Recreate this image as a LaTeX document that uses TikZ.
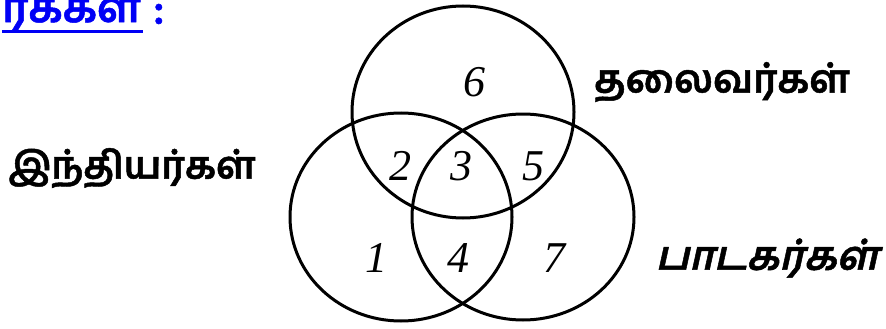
\documentclass[tikz,border=0pt]{standalone}
\usepackage{fontspec}
\setmainfont{Liberation Serif}
\newfontfamily\tamil[Script=Tamil,FakeBold=1.2]{Hind Madurai}
\newfontfamily\tamilsl[Script=Tamil,FakeSlant=0.22,FakeBold=1.2]{Hind Madurai}
\definecolor{hdrblue}{RGB}{0,0,245}
\begin{document}
\begin{tikzpicture}[x=1pt,y=-1pt,
  setcircle/.style={line width=3pt},
  num/.style={font=\fontsize{44}{44}\selectfont\itshape, inner sep=0pt},
  lbl/.style={font=\fontsize{#1}{44}\selectfont\tamil\bfseries, inner sep=0pt},
  lblsl/.style={font=\fontsize{#1}{44}\selectfont\tamilsl\bfseries, inner sep=0pt},
  hdr/.style={font=\fontsize{42}{46}\selectfont\tamil\bfseries, text=hdrblue, inner sep=0pt}]
\useasboundingbox (0,0) rectangle (886,329);
\clip (0,0) rectangle (886,329);
% header (cut at the left edge)
\node[hdr, anchor=east] (hword) at (141,14) {ரககள};
\node[hdr, anchor=west] (hcolon) at (153,14) {:};
\draw[hdrblue, line width=3pt] (hword.south west |- 0,32) coordinate (u1) -- (143,32) coordinate (u2);
% circles
\draw[setcircle] (463,112) ellipse [x radius=111, y radius=106];
\draw[setcircle] (401,217) ellipse [x radius=111, y radius=104];
\draw[setcircle] (523,217) ellipse [x radius=111, y radius=103];
% numbers
\node[num] (n6) at (474,82) {6};
\node[num] (n2) at (400,166) {2};
\node[num] (n3) at (461,166) {3};
\node[num] (n5) at (533,166) {5};
\node[num] (n1) at (376,258) {1};
\node[num] (n4) at (458,258) {4};
\node[num] (n7) at (554,258) {7};
% labels
\node[lbl=38] (indians) at (132,168) {இந்தியர்கள்};
\node[lbl=39] (leaders) at (722,82) {தலைவர்கள்};
\node[lblsl=40] (singers) at (767,258) {பாடகர்கள்};
\end{tikzpicture}
\end{document}
